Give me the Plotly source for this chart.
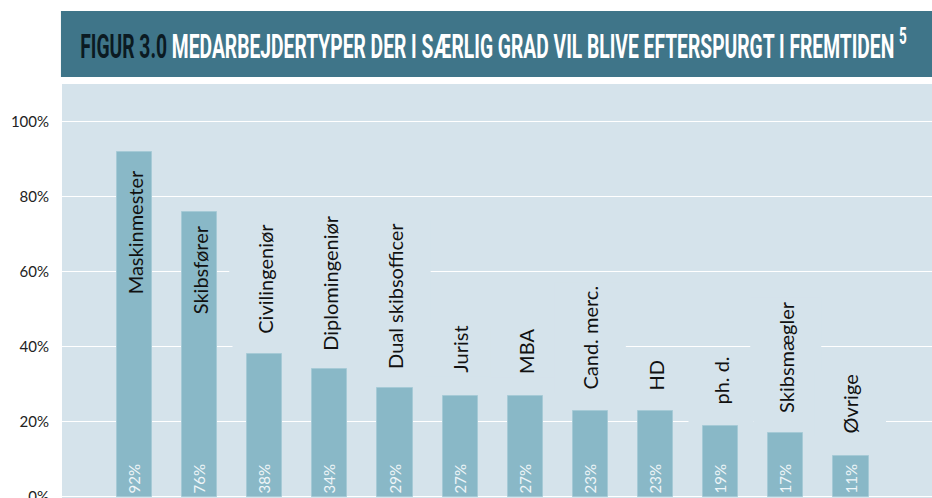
import plotly.graph_objects as go

categories = ["Maskinmester", "Skibsfører", "Civilingeniør", "Diplomingeniør",
              "Dual skibsofficer", "Jurist", "MBA", "Cand. merc.", "HD",
              "ph. d.", "Skibsmægler", "Øvrige"]
values = [92, 76, 38, 34, 29, 27, 27, 23, 23, 19, 17, 11]
# where the bottom (start) of each rotated category label sits, in axis units
label_base = [53.9, 48.5, 42.4, 37.9, 33.1, 32.0, 31.7, 27.7, 27.2, 23.5, 21.3, 16.0]
y_ticks = [0, 20, 40, 60, 80, 100]
tick_labels = [f"{t}%" for t in y_ticks]
title_prefix = "FIGUR 3.0"
title_main = "MEDARBEJDERTYPER DER I SÆRLIG GRAD VIL BLIVE EFTERSPURGT I FREMTIDEN"
title_note = "5"

BANNER = "#3F7589"
PANEL = "#D5E3EB"
BAR = "#89B8C7"
FONT = "Lato"

Y_RANGE = [-0.27, 110.13]
PLOT_H = 414
PX_PER_UNIT = PLOT_H / (Y_RANGE[1] - Y_RANGE[0])
LABEL_BOX_W = 64

fig = go.Figure()
fig.add_trace(go.Bar(
    x=categories, y=values, width=0.54,
    marker=dict(color=BAR, line=dict(color="#A6CAD6", width=1)),
    text=[f"{v}%" for v in values], textposition="inside",
    insidetextanchor="start", textangle=-90,
    textfont=dict(family=FONT, size=15, color="#EEF5F8"),
    constraintext="none", hoverinfo="skip",
))

for c, v, b in zip(categories, values, label_base):
    inside = v > b
    if not inside:
        # label background reaching down to the bar top (hides the gridlines)
        gap = (b - v) * PX_PER_UNIT
        if gap > 1:
            fig.add_annotation(
                x=c, y=v, xref="x", yref="y", yshift=1, text=" ",
                showarrow=False, xanchor="center", yanchor="bottom",
                width=LABEL_BOX_W, height=gap + 2, bgcolor=PANEL, borderpad=0,
            )
    kw = {} if inside else dict(bgcolor=PANEL, height=LABEL_BOX_W)
    fig.add_annotation(
        x=c, y=b, xref="x", yref="y", text=c, showarrow=False,
        textangle=-90, xanchor="center", yanchor="bottom",
        font=dict(family=FONT, size=20, color="#111111"),
        borderpad=3 if not inside else 0, **kw,
    )

# banner
fig.add_shape(type="rect", xref="paper", yref="paper",
              x0=-0.0012, x1=1.0, y0=(498 - 77) / 414, y1=(498 - 11) / 414,
              fillcolor=BANNER, line=dict(width=0), layer="below")
fig.add_annotation(
    xref="paper", yref="paper", x=(78 - 62) / 870, y=(498 - 44) / 414,
    xanchor="left", yanchor="middle", showarrow=False,
    text=(f"<b><span style='color:#0B1A22'>{title_prefix}</span> {title_main} "
          f"<sup>{title_note}</sup></b>"),
    font=dict(family="Roboto", size=34, color="#FFFFFF"),
)

fig.update_layout(
    width=932, height=498,
    margin=dict(l=62, r=0, t=84, b=0, autoexpand=False),
    paper_bgcolor="#FFFFFF", plot_bgcolor=PANEL,
    showlegend=False, bargap=0,
    xaxis=dict(range=[-1.113, 12.244], showticklabels=False, showgrid=False,
               zeroline=False, showline=False, fixedrange=True,
               automargin=False),
    yaxis=dict(range=Y_RANGE, tickvals=y_ticks, ticktext=tick_labels,
               showgrid=True, gridcolor="#FFFFFF", gridwidth=1,
               zeroline=False, showline=False, ticks="", ticklabelstandoff=12,
               ticklabeloverflow="allow", automargin=False,
               tickfont=dict(family=FONT, size=15, color="#222222"),
               fixedrange=True),
)

# remove the default page margin and squeeze the banner title horizontally,
# like the condensed typeface of the original
post_js = """
document.body.style.margin = '0';
(function squeeze(){
  var gd = document.getElementById('{plot_id}');
  var texts = gd.querySelectorAll('text.annotation-text');
  texts.forEach(function(t){
    if (t.textContent.indexOf('FIGUR') !== 0) return;
    var bb = t.getBBox();
    var target = 905 - 78;
    var s = target / bb.width;
    var x0 = bb.x;
    var prev = t.getAttribute('transform') || '';
    t.setAttribute('transform', prev + ' translate(' + x0 + ',0) scale(' + s + ',1) translate(' + (-x0) + ',0)');
  });
})();
"""
fig.write_html("out.html", post_script=post_js, config={"displayModeBar": False})
